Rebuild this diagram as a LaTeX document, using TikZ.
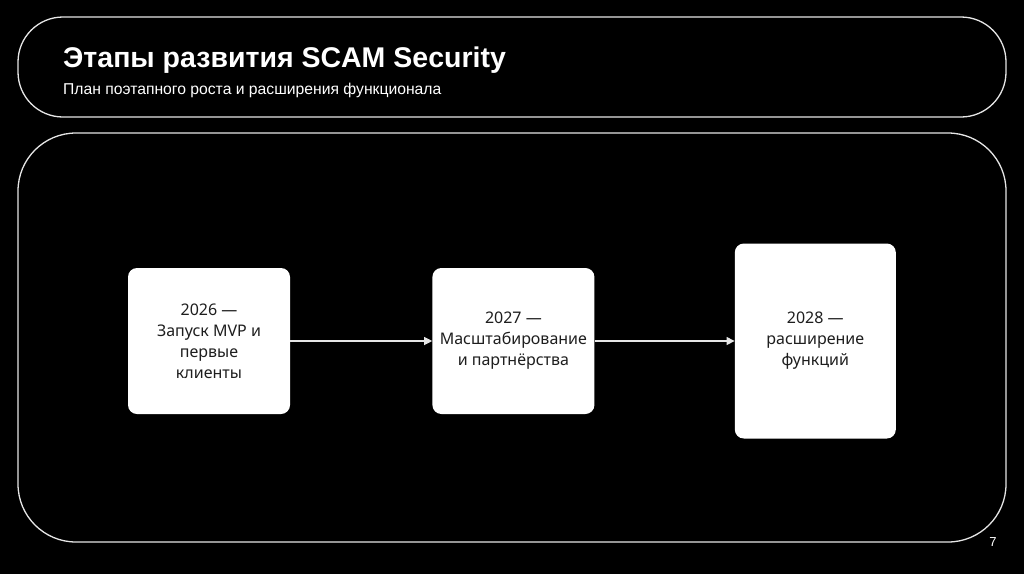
\documentclass[tikz,border=0pt]{standalone}
\usepackage{fontspec}
\setmainfont{Liberation Sans}
\newfontfamily\stagefont{Noto Sans}
\usetikzlibrary{arrows.meta,positioning}
\definecolor{bg}{HTML}{000000}
\definecolor{fg}{HTML}{FFFFFF}
\definecolor{ink}{HTML}{1E1E1E}
\definecolor{rim}{HTML}{E6E6E6}
\tikzset{
  frame/.style={draw=rim, line width=1.3pt},
  stagebox/.style={fill=fg, rounded corners=9pt, minimum width=162pt, minimum height=146pt,
    inner sep=0pt, align=center, text=ink, font=\stagefont\fontsize{16}{21}\selectfont},
  flow/.style={-{Triangle[length=8pt, width=8pt]}, draw=rim, fill=rim, line width=1.1pt},
  ttl/.style={anchor=base west, text=fg, inner sep=0pt, font=\bfseries\fontsize{28.5}{32}\selectfont},
  sttl/.style={anchor=base west, text=fg, inner sep=0pt, font=\fontsize{15.7}{18}\selectfont},
  pnum/.style={text=fg, inner sep=0pt, font=\fontsize{13}{15}\selectfont},
}
\begin{document}
\begin{tikzpicture}[x=1pt,y=-1pt]

% ============ page and frames ===============================================
\fill[bg] (0,0) rectangle (1024,574);
\useasboundingbox (0,0) rectangle (1024,574);
\draw[frame, rounded corners=45pt] (18,17) rectangle (1006,117);
\draw[frame, rounded corners=58pt] (18,133) rectangle (1006,542);

% ============ heading =======================================================
\node[ttl] (title) at (63,67) {Этапы развития SCAM Security};
\node[sttl] (subtitle) at (63,94) {План поэтапного роста и расширения функционала};

% ============ stages ========================================================
\node[stagebox] (y2026) at (209,341) {2026 —\\Запуск MVP и\\первые\\клиенты};
\node[stagebox, right=142pt of y2026] (y2027) {2027 —\\Масштабирование\\и партнёрства};
\node[stagebox, right=140pt of y2027, minimum width=161pt, minimum height=195pt] (y2028)
  {2028 —\\расширение\\функций};
\draw[flow] (y2026) -- (y2027);
\draw[flow] (y2027) -- (y2028);

\node[pnum] (page) at (993,542) {7};

\end{tikzpicture}
\end{document}
